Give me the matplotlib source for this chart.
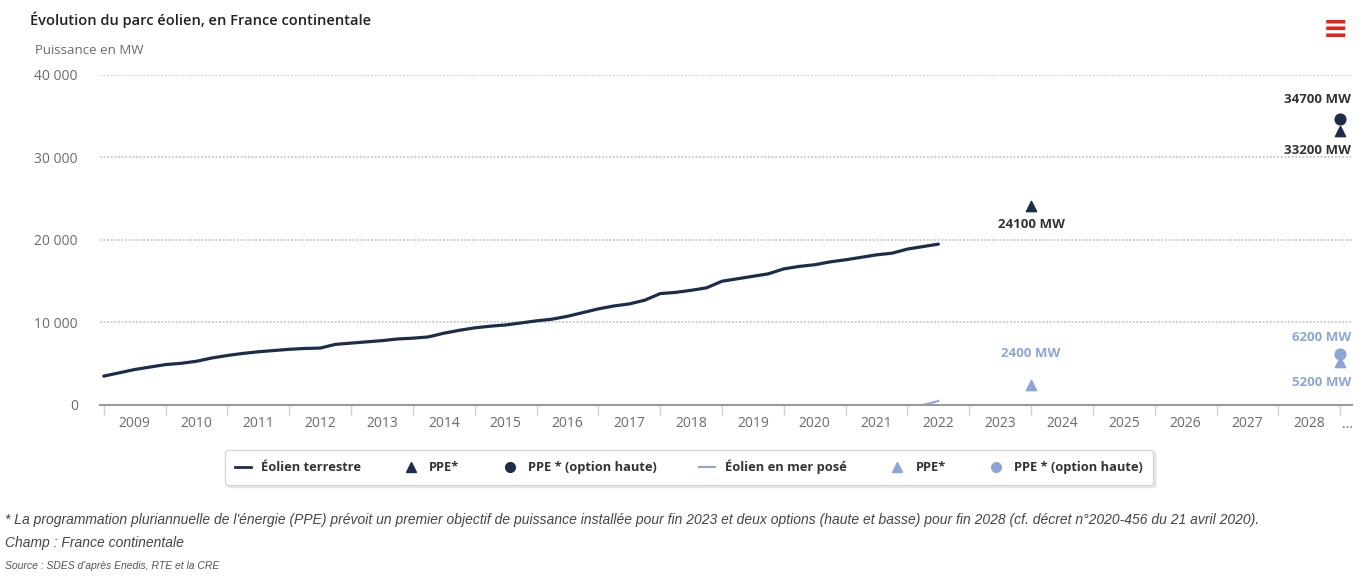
import matplotlib
matplotlib.use("Agg")
import matplotlib.pyplot as plt
import matplotlib.ticker as mticker
from matplotlib.lines import Line2D

# ---------------------------------------------------------------------------
# Data
# ---------------------------------------------------------------------------
quarters = [2009 + 0.25 * i for i in range(55)]   # 2009.00 ... 2022.50
onshore_mw = [
    3500, 3900, 4300, 4600, 4900, 5050, 5300, 5700,
    6000, 6250, 6450, 6600, 6750, 6850, 6900, 7350,
    7500, 7650, 7800, 8000, 8100, 8250, 8700, 9050,
    9350, 9550, 9700, 9950, 10200, 10400, 10750, 11200,
    11650, 12000, 12250, 12700, 13500, 13650, 13900, 14200,
    15000, 15300, 15600, 15900, 16500, 16800, 17000, 17350,
    17600, 17900, 18200, 18400, 18900, 19200, 19500,
]
offshore_mw = [0] * 54 + [480]

ppe_years = [2024, 2029]            # end of 2023 / end of 2028
ppe_onshore = [24100, 33200]
ppe_onshore_high = [34700]
ppe_offshore = [2400, 5200]
ppe_offshore_high = [6200]

year_labels = [str(y) for y in range(2009, 2029)]
y_ticks = [0, 10000, 20000, 30000, 40000]

DARK = "#1e2c4c"
LIGHT = "#8ea5d6"
GRID = "#c6c6c6"
TXT = "#6b6b6b"

plt.rcParams["font.family"] = ["Open Sans", "DejaVu Sans"]

fig = plt.figure(figsize=(13.67, 5.76), dpi=100)
ax = fig.add_axes([0.0732, 0.2969, 0.9158, 0.5729])

ax.plot(quarters, onshore_mw, color=DARK, lw=2.3, solid_capstyle="round", zorder=3)
ax.plot(quarters, offshore_mw, color=LIGHT, lw=1.5, zorder=2)

ax.scatter(ppe_years, ppe_onshore, marker="^", s=55, color=DARK, zorder=4, clip_on=False)
ax.scatter(ppe_years[1:], ppe_onshore_high, marker="o", s=60, color=DARK, zorder=4, clip_on=False)
ax.scatter(ppe_years, ppe_offshore, marker="^", s=55, color=LIGHT, zorder=4, clip_on=False)
ax.scatter(ppe_years[1:], ppe_offshore_high, marker="o", s=60, color=LIGHT, zorder=4, clip_on=False)

# value labels
lab = dict(fontsize=9.5, fontweight="bold", va="center", annotation_clip=False,
           textcoords="offset points")
ax.annotate(f"{ppe_onshore[0]} MW", (ppe_years[0], ppe_onshore[0]), xytext=(0, -13),
            ha="center", color="#333333", **lab)
ax.annotate(f"{ppe_onshore_high[0]} MW", (ppe_years[1], ppe_onshore_high[0]), xytext=(8, 14),
            ha="right", color="#333333", **lab)
ax.annotate(f"{ppe_onshore[1]} MW", (ppe_years[1], ppe_onshore[1]), xytext=(8, -14),
            ha="right", color="#333333", **lab)
ax.annotate(f"{ppe_offshore[0]} MW", (ppe_years[0], ppe_offshore[0]), xytext=(0, 23),
            ha="center", color=LIGHT, **lab)
ax.annotate(f"{ppe_offshore_high[0]} MW", (ppe_years[1], ppe_offshore_high[0]), xytext=(8, 12),
            ha="right", color=LIGHT, **lab)
ax.annotate(f"{ppe_offshore[1]} MW", (ppe_years[1], ppe_offshore[1]), xytext=(8, -15),
            ha="right", color=LIGHT, **lab)

# axes
ax.set_xlim(2008.94, 2029.19)
ax.set_ylim(0, 40000)
ax.set_yticks(y_ticks)
ax.yaxis.set_major_formatter(mticker.FuncFormatter(lambda v, p: f"{int(v):,}".replace(",", " ")))
ax.tick_params(axis="y", length=0, pad=16, labelsize=10, labelcolor=TXT)
ax.grid(axis="y", color=GRID, lw=1.3, linestyle=(0, (1, 1)))
ax.set_axisbelow(True)
for s in ["top", "right", "left"]:
    ax.spines[s].set_visible(False)
ax.spines["bottom"].set_color("#9a9a9a")
ax.spines["bottom"].set_linewidth(1.5)
ax.spines["bottom"].set_zorder(2.5)

ax.set_xticks(range(2009, 2030))
ax.xaxis.set_major_formatter(mticker.NullFormatter())
ax.tick_params(axis="x", which="major", length=7, color="#d0d0d0", width=1)
ax.set_xticks([y + 0.5 for y in range(2009, 2029)], minor=True)
ax.set_xticklabels(year_labels, minor=True)
ax.tick_params(axis="x", which="minor", length=0, pad=8, labelsize=10, labelcolor=TXT)
ax.text(2029.12, -0.035, "...", transform=ax.get_xaxis_transform(), ha="center", va="top",
        fontsize=10, color=TXT)

# titles
fig.text(30 / 1367, 1 - 20 / 576, "Évolution du parc éolien, en France continentale",
         fontsize=10.5, fontweight="semibold", color="#222222", va="center", ha="left")
fig.text(35 / 1367, 1 - 51 / 576, "Puissance en MW", fontsize=9.5, color=TXT,
         va="center", ha="left")
fig.text(1336 / 1367, 1 - 30 / 576, "≡", fontsize=22, fontweight="bold", color="#e2231a",
         va="center", ha="center")

# legend
handles = [
    Line2D([], [], color=DARK, lw=2),
    Line2D([], [], color=DARK, marker="^", ls="none", ms=7),
    Line2D([], [], color=DARK, marker="o", ls="none", ms=7),
    Line2D([], [], color=LIGHT, lw=1.5),
    Line2D([], [], color=LIGHT, marker="^", ls="none", ms=7),
    Line2D([], [], color=LIGHT, marker="o", ls="none", ms=7),
]
labels = ["Éolien terrestre", "PPE*", "PPE * (option haute)",
          "Éolien en mer posé", "PPE*", "PPE * (option haute)"]
leg = fig.legend(handles, labels, loc="center", bbox_to_anchor=(0.504, 0.189), ncol=6,
                 frameon=True, fancybox=True, edgecolor="#d8d8d8", handlelength=1.2,
                 handletextpad=0.8, columnspacing=3.3, borderpad=0.8,
                 prop={"size": 9.3, "weight": "bold"},
                 shadow={"color": "#e2e2e2", "alpha": 0.8})
for t in leg.get_texts():
    t.set_color("#333333")

# footnotes
note_font = ["Liberation Sans", "DejaVu Sans"]
fig.text(5 / 1367, 1 - 520 / 576,
         "* La programmation pluriannuelle de l'énergie (PPE) prévoit un premier objectif de "
         "puissance installée pour fin 2023 et deux options (haute et basse) pour fin 2028 "
         "(cf. décret n°2020-456 du 21 avril 2020).",
         family=note_font, style="italic", fontsize=10, color="#444444", va="center")
fig.text(5 / 1367, 1 - 543 / 576, "Champ : France continentale",
         family=note_font, style="italic", fontsize=10, color="#444444", va="center")
fig.text(5 / 1367, 1 - 566 / 576, "Source : SDES d'après Enedis, RTE et la CRE",
         family=note_font, style="italic", fontsize=7.5, color="#555555", va="center")

fig.savefig("out.png", dpi=100)
